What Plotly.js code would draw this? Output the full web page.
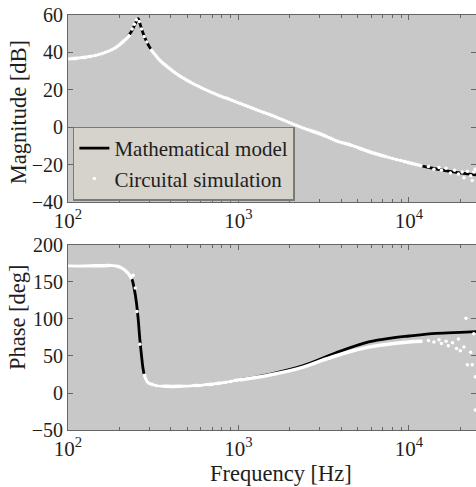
<!DOCTYPE html>
<html>
<head>
<meta charset="utf-8">
<script src="https://cdn.plot.ly/plotly-3.0.1.min.js"></script>
<style>html,body{margin:0;padding:0;background:#fff;}#chart{width:476px;height:487px;}</style>
</head>
<body>
<div id="chart"></div>
<script>
// ---- Magnitude: mathematical model ----
const modelMagFreq = [100,130,160,190,215,235,250,258,265,275,290,310,340,380,450,550,700,850,1000,1300,1700,2400,3000,3700,4700,5800,7500,10000,13000,17000,22000,25000];
const modelMagDb   = [36.5,37.5,39.5,42.5,46.5,51,56,58,55,50.5,45.5,41,36.5,32.5,27.5,23,18.5,15.5,13,9,5,-0.5,-3.5,-7,-10,-13,-16,-19,-21.5,-23.5,-25,-25.5];

// ---- Magnitude: circuital simulation (dense smooth part, gap at resonance) ----
const simMagFreq = [100,130,160,190,215,231,null,305,340,380,450,550,700,850,1000,1300,1700,2400,3000,3700,4700,5800,7500,10000,12000];
const simMagDb   = [36.5,37.5,39.5,42.5,46.5,49.5,null,41.8,36.5,32.5,27.5,23,18.5,15.5,13,9,5,-0.5,-3.5,-7,-10,-13,-16,-19,-20.8];
// scattered simulation points (resonance + high frequency)
const simMagDotFreq = [238,245,252,262,270,280,290,13000,14000,15000,15500,16500,17500,18500,19500,20500,21000,22000,23000,23500,24000,24500];
const simMagDotDb   = [52.5,55,57.5,56.5,52.5,48.5,45.5,-21,-22.5,-21.5,-23,-22,-24.5,-23,-25,-24,-27,-23.5,-26,-28.5,-24,-22.5];

// ---- Phase: mathematical model ----
const modelPhFreq = [100,150,190,210,225,237,245,252,258,264,270,276,283,295,330,380,450,600,800,1000,1500,2400,3700,5800,8000,10000,14400,20000,25000];
const modelPhDeg  = [171.5,172,171.5,168,162,154,140,122,100,72,50,32,21,14,10,9,9,10.5,13.5,17.5,25,37,54,69,74.5,77,80.5,82,83];

// ---- Phase: circuital simulation ----
const simPhFreq = [100,150,190,210,225,237,null,280,283,295,330,380,450,600,800,1000,1500,2400,3000,3700,4700,5800,7500,10000,12000];
const simPhDeg  = [171.5,172,171.5,168,162,154,null,26,21,14,10,9,9,10.5,13.5,17.5,24,35,43,50,57,62,66,69,70];
const simPhDotFreq = [241,248,254,264,13000,14000,15000,15500,16500,17000,18000,19000,19500,20000,21000,21600,22000,23000,23500,24000,24500,24500];
const simPhDotDeg  = [159,142,110,66,71,69,72,67,70,64,68,60,73,57,62,101,38,55,38,80,22,-23];

const xTickVals = [100,1000,10000];
const xTickText = ['10<sup>2</sup>','10<sup>3</sup>','10<sup>4</sup>'];
const xMinorVals = [200,300,400,500,600,700,800,900,2000,3000,4000,5000,6000,7000,8000,9000,20000];

const titleMag = 'Magnitude [dB]';
const titlePhase = 'Phase [deg]';
const titleFreq = 'Frequency [Hz]';

const FONT = 'Liberation Serif';
const AX = '#666';
const TXT = '#1e1e1e';

const traces = [
  {x: modelMagFreq, y: modelMagDb, mode:'lines', line:{color:'#000', width:2.8, shape:'spline'}, name:'Mathematical model', xaxis:'x', yaxis:'y'},
  {x: simMagFreq, y: simMagDb, mode:'lines', line:{color:'#fff', width:3.5, shape:'spline'}, connectgaps:false, showlegend:false, hoverinfo:'skip', xaxis:'x', yaxis:'y'},
  {x: simMagDotFreq, y: simMagDotDb, mode:'markers', marker:{color:'#fff', size:3.5}, name:'Circuital simulation', xaxis:'x', yaxis:'y'},
  {x: modelPhFreq, y: modelPhDeg, mode:'lines', line:{color:'#000', width:2.8, shape:'spline'}, showlegend:false, xaxis:'x2', yaxis:'y2'},
  {x: simPhFreq, y: simPhDeg, mode:'lines', line:{color:'#fff', width:3.5, shape:'spline'}, connectgaps:false, showlegend:false, hoverinfo:'skip', xaxis:'x2', yaxis:'y2'},
  {x: simPhDotFreq, y: simPhDotDeg, mode:'markers', marker:{color:'#fff', size:3.5}, showlegend:false, xaxis:'x2', yaxis:'y2'}
];

function xAxis(anchor){
  return {
    type:'log', range:[2, 4.393], anchor: anchor,
    tickmode:'array', tickvals: xTickVals, ticktext: xTickText,
    ticks:'inside', ticklen:5, tickcolor:AX, mirror:'ticks',
    showline:true, linecolor:AX, linewidth:1, showgrid:false, zeroline:false,
    minor:{tickmode:'array', tickvals:xMinorVals, ticks:'inside', ticklen:3, tickcolor:AX, showgrid:false},
    tickfont:{family:FONT, size:21, color:TXT}
  };
}
function yAxis(anchor, domain, range, dtick){
  return {
    range: range, dtick: dtick, tick0: range[0], anchor: anchor, domain: domain,
    ticks:'inside', ticklen:5, tickcolor:AX, mirror:'ticks',
    showline:true, linecolor:AX, linewidth:1, showgrid:false, zeroline:false,
    tickfont:{family:FONT, size:20, color:TXT}
  };
}
const titleFont = {family:FONT, size:22.5, color:TXT};

const layout = {
  width:476, height:487,
  margin:{l:68, r:0, t:15, b:57},
  paper_bgcolor:'#fff', plot_bgcolor:'#c8c8c8',
  font:{family:FONT, size:21, color:TXT},
  showlegend:true,
  legend:{x:0.012, y:0.553, xanchor:'left', yanchor:'bottom', bgcolor:'#d6d2cc', bordercolor:'#7a7a7a', borderwidth:1.5,
          font:{family:FONT, size:21, color:TXT}, tracegroupgap:0, itemwidth:30},
  xaxis: xAxis('y'),
  yaxis: yAxis('x', [0.5494, 1], [-40, 60], 20),
  xaxis2: xAxis('y2'),
  yaxis2: yAxis('x2', [0, 0.4458], [-50, 200], 50),
  annotations: [
    {text:titleMag, xref:'paper', yref:'paper', x:-0.122, y:0.766, xanchor:'center', yanchor:'middle', textangle:-90, showarrow:false, font:titleFont},
    {text:titlePhase, xref:'paper', yref:'paper', x:-0.125, y:0.272, xanchor:'center', yanchor:'middle', textangle:-90, showarrow:false, font:titleFont},
    {text:titleFreq, xref:'paper', yref:'paper', x:0.522, y:-0.104, xanchor:'center', yanchor:'middle', showarrow:false, font:titleFont}
  ]
};

Plotly.newPlot('chart', traces, layout, {displayModeBar:false, staticPlot:true});
</script>
</body>
</html>
